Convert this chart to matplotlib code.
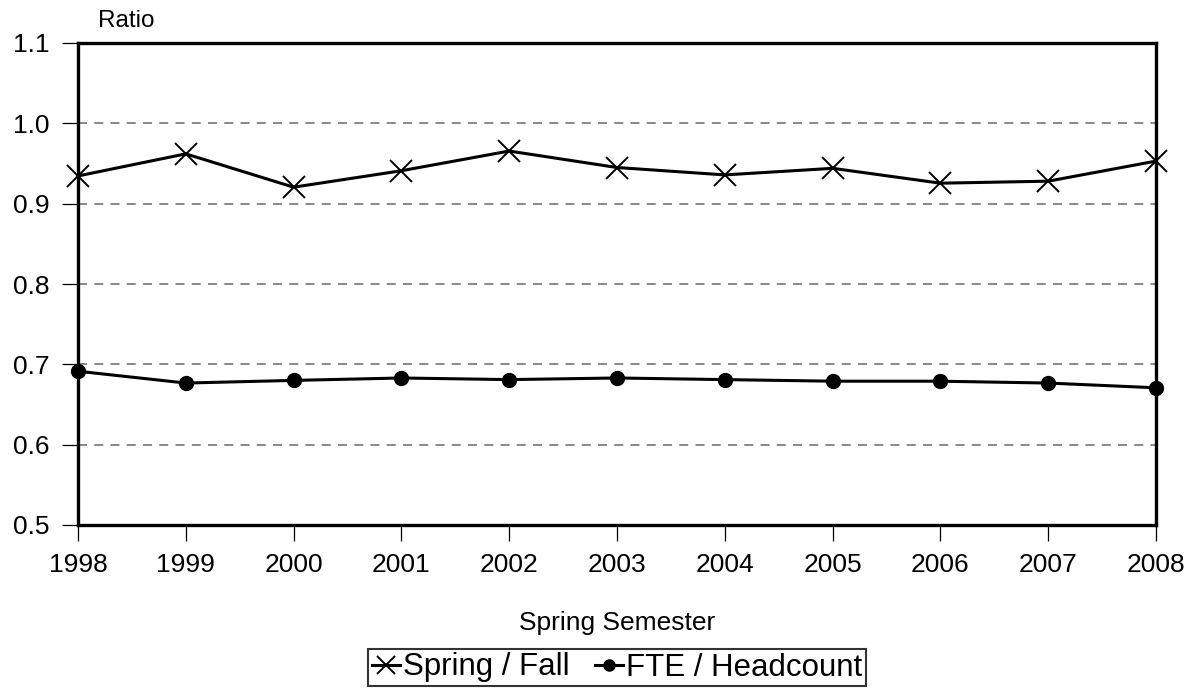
import matplotlib
matplotlib.use("Agg")
import matplotlib.pyplot as plt

years = [1998, 1999, 2000, 2001, 2002, 2003, 2004, 2005, 2006, 2007, 2008]
spring_fall = [0.9345, 0.962, 0.9205, 0.941, 0.9655, 0.945, 0.9358, 0.944, 0.9255, 0.928, 0.953]
fte_headcount = [0.6914, 0.6767, 0.680, 0.683, 0.681, 0.683, 0.681, 0.679, 0.679, 0.6767, 0.6708]
yticks = [0.5, 0.6, 0.7, 0.8, 0.9, 1.0, 1.1]

plt.rcParams['font.family'] = ['Liberation Sans', 'DejaVu Sans']

fig = plt.figure(figsize=(11.94, 6.92), dpi=100)
ax = fig.add_axes([78/1194, 1 - 525/692, (1156-78)/1194, (525-43)/692])

ax.plot(years, spring_fall, color='black', lw=2.2, marker='x', ms=16, mew=1.4,
        label='Spring / Fall', clip_on=False, zorder=3)
ax.plot(years, fte_headcount, color='black', lw=2.2, marker='o', ms=10,
        label='FTE / Headcount', clip_on=False, zorder=3)

ax.set_xlim(years[0], years[-1])
ax.set_ylim(0.5, 1.1)
ax.set_xticks(years)
ax.set_xticklabels([str(y) for y in years])
ax.set_yticks(yticks)
ax.set_yticklabels([f"{v:.1f}" for v in yticks])

for v in yticks[1:-1]:
    ax.axhline(v, color='#808080', lw=1.3, ls=(0, (5, 4)), zorder=1)

for s in ax.spines.values():
    s.set_linewidth(2.4)
    s.set_color('black')

ax.tick_params(axis='both', direction='out', length=11.5, width=0.9, colors='black',
               labelsize=19)
ax.tick_params(axis='y', pad=9)
ax.tick_params(axis='x', pad=9)

ax.set_xlabel('Spring Semester', fontsize=19, labelpad=24)
fig.text(126/1194, 1 - 21/692, 'Ratio', fontsize=17.5, ha='center', va='center')

leg = ax.legend(loc='center', bbox_to_anchor=(0.5, (-(667.5-525))/(525-43)), ncol=2,
                fontsize=22.5, frameon=True, fancybox=False, edgecolor='black',
                handlelength=0.9, handletextpad=0.1, columnspacing=0.8,
                borderpad=0.12, borderaxespad=0, markerscale=0.8)
leg.get_frame().set_linewidth(1.5)

fig.savefig('out.png', dpi=100)
